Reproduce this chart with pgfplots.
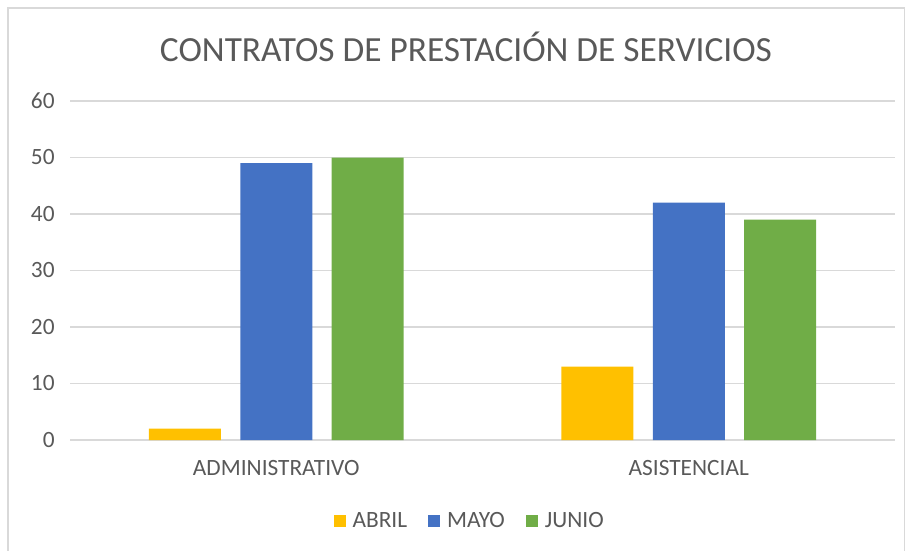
\documentclass[border=0pt]{standalone}
\usepackage{fontspec}
\setmainfont{Carlito}
\usepackage{pgfplots}
\pgfplotsset{compat=1.18}
\definecolor{abril}{HTML}{FFC000}
\definecolor{mayo}{HTML}{4472C4}
\definecolor{junio}{HTML}{70AD47}
\definecolor{txtgray}{HTML}{595959}
\definecolor{gridgray}{HTML}{D9D9D9}
\begin{document}
\begin{tikzpicture}
% page frame: 912x550 px at 0.75pt per px
\useasboundingbox (0,0) rectangle (684pt,412.5pt);
\draw[gridgray, line width=1pt] (6pt,-6pt) rectangle (678.5pt,406.5pt);
\node[anchor=base, text=txtgray, font=\fontsize{26.5}{30}\selectfont] at (349.5pt,366pt) {CONTRATOS DE PRESTACIÓN DE SERVICIOS};
\begin{axis}[
    at={(52.5pt,82.5pt)}, anchor=south west,
    scale only axis,
    width=618.75pt, height=254.25pt,
    ybar=14.6pt, bar width=54pt,
    xmin=-0.5, xmax=1.5,
    ymin=0, ymax=60,
    xtick=data,
    xticklabels={ADMINISTRATIVO, ASISTENCIAL},
    ytick={0,10,...,60},
    major tick length=0pt,
    axis line style={draw=none},
    ymajorgrids,
    major grid style={gridgray, line width=1pt},
    /pgf/number format/assume math mode=true,
    tick label style={text=txtgray, font=\fontsize{17.5}{20}\selectfont},
    yticklabel style={xshift=-8pt},
    xticklabel style={yshift=-12pt},
    legend columns=-1,
    legend style={at={(0.485,-0.239)}, anchor=center, draw=none,
        text=txtgray, font=\fontsize{17.5}{20}\selectfont,
        /tikz/every odd column/.append style={column sep=3pt},
        /tikz/every even column/.append style={column sep=14pt}},
    legend image code/.code={\fill[#1] (0pt,-4.5pt) rectangle (9pt,4.5pt);},
]
\addplot[fill=abril, draw=none] coordinates {(0,2) (1,13)};
\addplot[fill=mayo, draw=none] coordinates {(0,49) (1,42)};
\addplot[fill=junio, draw=none] coordinates {(0,50) (1,39)};
\legend{ABRIL, MAYO, JUNIO}
\end{axis}
\end{tikzpicture}
\end{document}
